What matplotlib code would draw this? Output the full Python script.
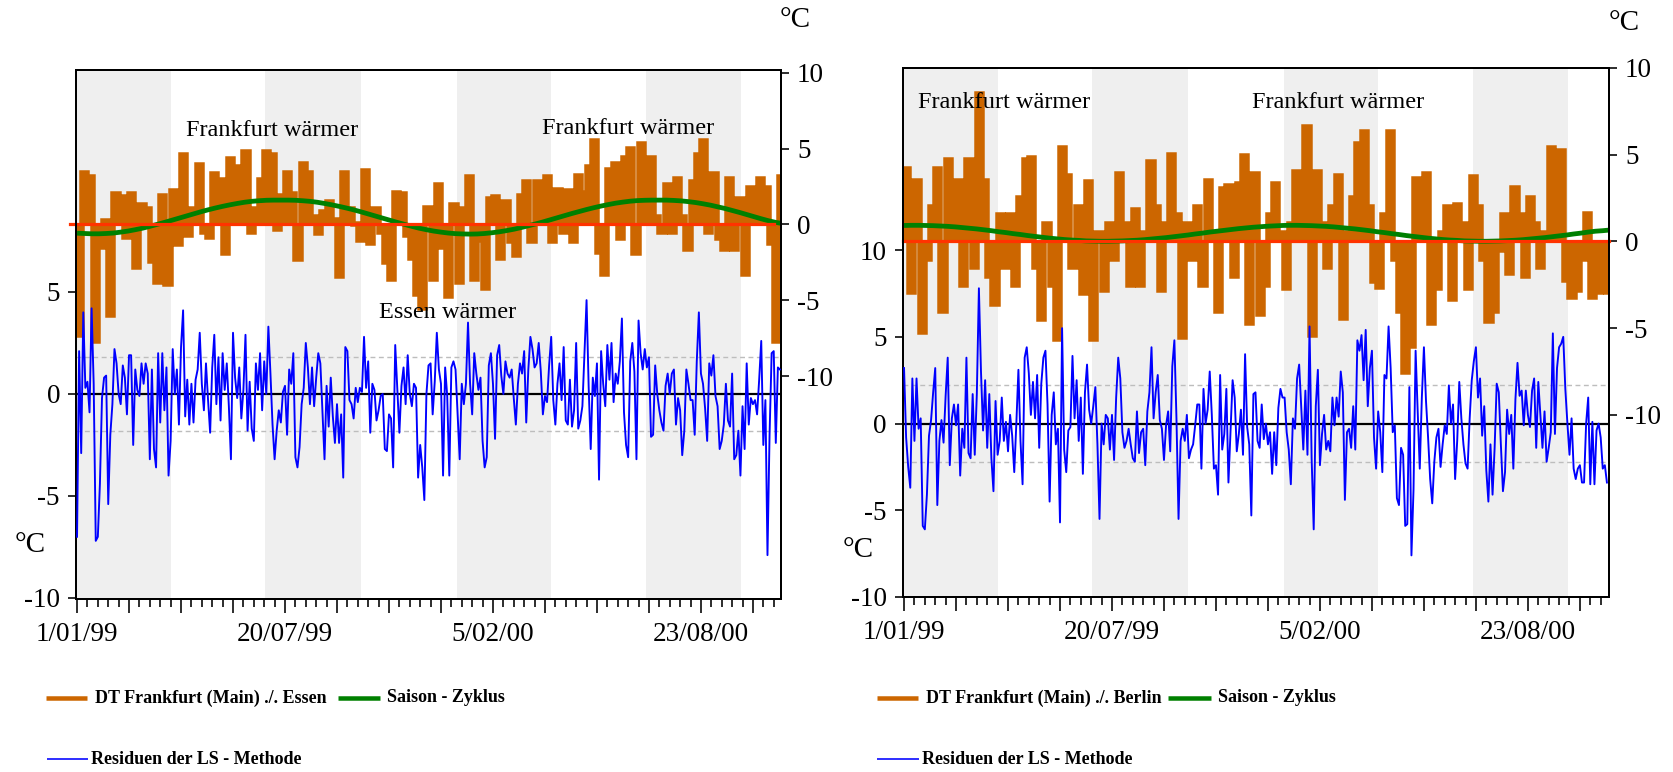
import numpy as np
import matplotlib
matplotlib.use("Agg")
import matplotlib.pyplot as plt
from matplotlib.lines import Line2D
from matplotlib.ticker import FixedLocator, FuncFormatter

# ---------------- data ----------------
tick_days = [0, 200, 400, 600]
tick_labels = ["1/01/99", "20/07/99", "5/02/00", "23/08/00"]
band_starts = [0, 181, 365, 547]
band_ends = [90, 273, 456, 639]

ORANGE_STEP = 5   # days per value of the DT series
GREEN_STEP = 7    # days per value of the seasonal cycle
BLUE_STEP = 2     # days per value of the residuals

# Panel 1: Frankfurt ./. Essen
dt_essen = [-7.3, 3.4, 3.1, -7.7, -1.5, 0.2, -6.0, 2.0, 1.8, -0.8,
            2.0, -2.8, 1.3, 1.0, -2.4, -3.8, 1.9, -3.9, 2.2, -1.3,
            4.6, -0.7, 1.0, 3.9, -0.5, -0.8, 3.3, 2.9, -1.9, 4.3,
            3.8, 0.5, 4.8, -0.5, 1.0, 2.9, 4.8, 4.6, -0.3, 1.9,
            3.4, 2.0, -2.3, 4.0, 3.4, 0.5, -0.6, 0.8, 1.5, 0.3,
            -3.4, 3.4, 1.0, 0.0, -1.0, 3.5, -1.2, 1.0, -0.5, -2.5,
            -3.6, 2.1, 2.0, -0.7, -2.2, -4.6, -5.5, 1.1, -3.6, 2.6,
            -1.5, -4.7, 1.3, -3.8, 1.0, 3.1, -3.6, -1.0, -4.2, 1.7,
            1.8, -2.2, 1.5, -1.1, -2.0, 1.9, 2.8, -1.1, 2.8, 2.3,
            3.1, -1.1, 2.3, -0.5, 2.2, -1.1, 3.2, 2.1, 3.8, 5.5,
            -1.8, -3.3, 3.6, 4.0, -0.9, 4.4, 5.0, -1.9, 5.3, 2.0,
            4.4, 0.5, -0.5, 2.6, -0.5, 3.0, 0.5, -1.6, 2.8, 4.6,
            5.5, -0.5, 3.3, -0.9, -1.6, 3.0, -1.6, 1.7, -3.3, 2.4,
            1.5, 3.0, 2.4, -1.2, -7.7, 3.1]
season_essen = [-0.58, -0.60, -0.62, -0.62, -0.60, -0.57, -0.51, -0.44, -0.35, -0.25,
                -0.13, 0.00, 0.13, 0.27, 0.41, 0.55, 0.69, 0.83, 0.96, 1.08,
                1.19, 1.29, 1.38, 1.46, 1.52, 1.56, 1.59, 1.60, 1.60, 1.60,
                1.59, 1.56, 1.52, 1.46, 1.38, 1.29, 1.19, 1.08, 0.96, 0.83,
                0.69, 0.55, 0.41, 0.27, 0.13, 0.00, -0.13, -0.25, -0.35, -0.44,
                -0.51, -0.57, -0.61, -0.63, -0.64, -0.63, -0.60, -0.55, -0.49, -0.41,
                -0.32, -0.21, -0.09, 0.03, 0.16, 0.30, 0.44, 0.58, 0.72, 0.85,
                0.98, 1.10, 1.21, 1.31, 1.40, 1.47, 1.53, 1.57, 1.59, 1.60,
                1.60, 1.60, 1.58, 1.55, 1.50, 1.44, 1.36, 1.27, 1.16, 1.05,
                0.92, 0.79, 0.65, 0.51, 0.37, 0.24, 0.13, 0.05]
resid_essen = [-7.0, 2.1, -2.9, 4.0, 0.3, 0.6, -0.9, 4.2, 0.5, -7.2,
               -7.0, -4.4, -0.2, 0.8, 0.9, -5.4, -2.0, -0.5, 2.2, 1.5,
               0.0, -0.5, 1.4, 0.8, -1.0, 1.9, 1.9, -2.5, 1.2, 0.2,
               -0.1, 1.5, 0.5, 1.5, 1.0, -3.2, 1.2, -2.7, -3.6, 2.0,
               -1.4, 2.0, -0.8, 1.3, -4.0, -2.3, 2.2, 0.0, 1.2, -1.5,
               2.3, 4.1, -1.1, 0.7, -1.5, 0.5, -1.4, 0.7, 1.2, 3.0,
               0.5, -0.8, 1.5, -0.3, -1.9, 1.3, 2.9, -0.5, 1.8, -1.3,
               2.0, 0.2, 1.5, -0.6, -3.2, 3.0, 0.8, -0.2, 1.3, -1.2,
               0.2, 2.9, -1.8, 0.6, -1.7, -2.3, 1.5, 0.2, 2.0, -0.8,
               1.6, 0.0, 3.3, 1.0, -1.5, -3.2, -1.8, -0.8, -1.4, 0.1,
               0.4, -2.0, 1.2, 0.5, 2.0, -3.1, -3.6, -2.6, -0.5, 0.3,
               2.5, 1.3, -0.5, 1.3, -0.6, 0.8, 2.0, 1.5, -0.8, -3.2,
               0.4, -1.6, 0.8, -1.1, -2.4, -0.5, -2.4, -1.0, -4.1, 2.3,
               2.1, -0.3, -0.5, -1.2, 0.3, -0.4, 0.3, 0.1, 2.8, 0.3,
               1.6, -1.9, 0.5, 0.2, -1.3, -0.8, -0.1, 0.0, -2.7, -2.8,
               -1.0, -1.2, -3.6, 2.4, 0.3, -1.9, 0.4, 1.3, -0.5, 1.9,
               0.0, -0.6, 0.5, 0.3, -4.1, -2.5, -3.6, -5.2, 0.0, 1.4,
               1.5, -1.0, 0.6, 3.0, 1.2, 0.5, -4.0, 1.3, -0.1, -4.0,
               1.3, 1.6, 1.2, -1.0, -3.2, 0.5, -0.5, 0.5, 3.5, 0.5,
               -1.0, 2.0, 1.0, 0.2, 0.8, -2.3, -3.6, -3.1, 1.4, 2.0,
               0.5, -2.2, 1.9, 2.4, 0.9, 0.0, 1.6, 1.0, 0.8, 1.2,
               -0.2, -1.5, 0.5, 1.5, 1.0, 2.1, -1.4, 1.2, 2.8, 2.2,
               1.3, 1.5, 2.5, 1.1, -1.0, -0.1, -0.4, 1.4, 2.8, -0.3,
               -1.5, 0.5, 1.5, -0.3, 2.3, -1.3, -1.5, 0.7, -1.6, -0.8,
               2.5, -1.7, -1.3, -0.6, 2.0, 4.6, 0.4, -2.7, 0.8, -0.1,
               1.5, -4.2, 2.1, 0.5, -0.6, 2.4, 0.7, 2.5, -0.4, 1.0,
               0.5, 1.6, 3.7, -0.9, -2.5, -3.1, 1.6, 2.5, 1.1, -3.2,
               3.6, 2.0, 1.2, 2.2, 1.3, 1.8, -2.1, -2.0, 1.4, 0.0,
               -0.8, -1.4, -1.8, 0.4, 1.0, 0.0, 1.0, 1.2, -1.5, -0.2,
               -0.8, -3.0, -1.8, 1.2, 0.5, -0.3, -0.3, -2.0, 1.6, 4.0,
               1.0, 0.5, -0.7, -2.3, 1.5, 0.9, 1.9, -0.1, -0.6, -2.7,
               -2.3, -1.5, 0.5, -1.3, -1.6, 1.0, -3.2, -3.0, -1.8, -4.0,
               -0.6, -2.7, 1.5, -1.5, -0.2, -0.5, -0.3, -1.0, 0.7, 2.6,
               -2.5, -0.3, -7.9, -2.0, 2.0, 2.1, -2.4, 1.3, 1.2]
band_essen = [-1.8, 1.8]

# Panel 2: Frankfurt ./. Berlin
dt_berlin = [4.2, -2.9, 3.5, -5.2, -1.0, 2.0, 4.2, -4.0, 4.7, 0.5,
             3.5, -2.5, 4.7, -1.5, 8.5, 3.5, -2.0, -3.6, 1.5, -1.5,
             1.5, -2.5, 2.5, 4.7, 4.8, -1.5, -4.5, 1.0, -2.5, -5.6,
             5.4, 3.8, -1.5, 2.0, -3.0, 3.4, -5.6, 0.5, -2.8, 1.0,
             -1.0, 3.9, 1.0, -2.5, 1.8, -2.5, 0.5, 4.6, 2.0, -2.8,
             1.0, 5.0, 1.5, -5.5, 1.0, -1.0, 2.0, -2.5, 3.5, 0.5,
             -4.0, 3.0, 3.2, -2.0, 3.3, 4.9, -4.7, 3.9, -4.2, -2.5,
             1.5, 3.3, 0.5, -2.7, 1.0, 4.0, 2.5, 6.6, -5.4, 4.0,
             1.0, -1.5, 2.0, 3.8, -4.4, 0.5, 2.5, 5.6, 6.3, 2.0,
             -2.3, -2.6, 1.5, 6.3, -1.0, -4.0, -7.5, -6.0, 3.6, 1.0,
             3.9, -4.7, -2.7, 0.5, 2.0, -3.3, 2.1, 1.0, -2.7, 3.7,
             2.0, -1.0, -4.6, -4.0, -0.5, 1.5, -1.8, 3.1, 1.5, -2.0,
             2.5, 1.0, -1.5, 0.5, 5.4, 3.0, 5.2, -2.2, -3.2, -2.8,
             -1.0, 1.6, -3.2, -2.9, -1.5, -2.9]
season_berlin = [0.92, 0.93, 0.93, 0.92, 0.91, 0.89, 0.87, 0.84, 0.80, 0.76,
                 0.72, 0.67, 0.62, 0.56, 0.51, 0.45, 0.40, 0.34, 0.29, 0.24,
                 0.19, 0.15, 0.11, 0.08, 0.06, 0.03, 0.02, 0.01, 0.01, 0.02,
                 0.03, 0.05, 0.07, 0.10, 0.14, 0.18, 0.22, 0.27, 0.32, 0.37,
                 0.43, 0.48, 0.54, 0.59, 0.64, 0.69, 0.74, 0.78, 0.82, 0.85,
                 0.88, 0.90, 0.92, 0.93, 0.93, 0.92, 0.91, 0.89, 0.87, 0.84,
                 0.80, 0.76, 0.72, 0.67, 0.62, 0.56, 0.51, 0.45, 0.40, 0.34,
                 0.29, 0.24, 0.19, 0.15, 0.11, 0.08, 0.06, 0.03, 0.02, 0.01,
                 0.01, 0.02, 0.03, 0.05, 0.07, 0.10, 0.14, 0.18, 0.22, 0.27,
                 0.32, 0.37, 0.43, 0.48, 0.54, 0.59, 0.62, 0.66]
resid_berlin = [3.2, -0.8, -2.5, -3.7, 2.6, -1.0, 2.6, -0.3, 0.3, -5.9,
                -6.1, -4.1, -0.7, 0.2, 1.8, 3.2, -4.7, -1.0, 0.2, -1.1,
                1.6, 3.8, -2.4, 0.3, 1.1, -0.1, 1.1, -3.0, -0.3, -1.4,
                3.8, -1.7, -2.0, 1.7, -1.8, 1.7, 7.8, 3.0, -0.4, 2.5,
                -1.4, 1.7, -2.0, -3.9, 1.3, -1.8, -1.0, 1.5, -1.0, 0.1,
                -1.6, 0.5, -0.7, -2.8, 0.0, 3.1, -1.0, -3.5, 3.8, 4.4,
                2.9, 0.5, 2.4, 0.3, 2.8, -1.4, 2.3, 3.8, 4.2, 1.1,
                -4.5, 0.5, 1.8, -1.2, -0.3, -5.7, 5.5, -1.5, -2.8, -0.4,
                -0.2, 3.9, 0.3, 2.5, -1.0, 1.5, -2.9, 1.8, 3.4, 0.8,
                0.0, 1.0, 2.1, -1.2, -5.5, 0.0, -1.2, 0.5, 0.3, -1.5,
                0.5, -2.1, 1.5, 3.8, 2.6, -0.5, -1.4, -1.0, -0.3, -1.2,
                -2.0, -2.2, 0.7, -1.7, -0.5, -0.3, -2.4, 0.7, 1.8, 4.4,
                0.3, 1.8, 2.8, 0.2, -0.3, -2.1, -0.1, 0.7, -1.6, 3.3,
                4.8, 0.3, -5.5, -1.0, -0.3, -1.0, 0.5, -2.0, -1.5, -1.2,
                -0.1, 1.1, 1.1, -2.6, 2.0, 0.0, 0.8, 3.0, 0.5, -2.6,
                -2.4, -4.1, 2.8, -1.5, -0.6, 2.0, -3.4, -0.5, 2.5, 1.5,
                -1.6, -0.6, 0.8, -1.8, 4.0, -0.2, -1.2, -5.3, 1.7, 1.8,
                -1.0, -1.4, 1.1, -0.9, 0.0, -1.2, -0.5, -2.9, -0.5, -2.4,
                0.9, 2.0, 1.5, 1.5, -0.5, -1.5, -3.5, 0.3, -0.3, 2.6,
                3.4, 1.0, -1.5, 1.9, -1.8, 5.6, -2.0, -6.1, 1.0, 3.1,
                -2.4, -0.6, 0.5, -1.5, -1.0, -1.6, 1.5, -0.1, 1.5, 0.4,
                3.0, 1.8, -4.4, -0.5, -0.3, -1.4, 1.0, -1.5, 4.8, 4.2,
                5.1, 2.5, 5.4, 1.0, 3.2, 4.2, -0.8, -2.6, 0.7, -0.5,
                -2.8, 2.8, 2.6, 5.6, 3.2, -0.5, -0.1, -4.3, -4.7, -1.4,
                -1.8, -5.9, -5.8, 2.1, -7.6, -3.8, 4.2, 0.7, -2.6, 1.5,
                4.4, 1.3, -0.8, -3.2, -4.6, -2.2, -0.8, -0.3, -2.5, -1.2,
                -0.1, -0.6, 2.2, 0.0, 1.1, -3.2, -1.0, 2.4, 0.3, -1.2,
                -2.3, -2.6, 0.3, 2.5, 3.6, 4.4, 1.5, 2.6, -0.7, 1.0,
                -2.7, -4.5, -1.2, -4.1, -1.4, 2.3, 1.8, -1.2, -3.9, -2.8,
                0.8, -0.6, 0.5, -2.6, 1.4, 3.5, 1.6, 1.9, -0.1, 1.9,
                0.5, -0.2, 1.9, 2.6, -1.4, 2.4, 0.5, -1.4, 0.7, -2.2,
                -1.4, -0.5, 5.2, -0.6, 3.2, 4.4, 4.6, 5.0, 2.0, 0.0,
                -1.8, 0.3, -2.6, -3.2, -2.6, -2.4, -3.4, -3.4, 0.0, 1.5,
                -3.5, 0.1, -3.5, -0.4, 0.0, -0.8, -2.6, -2.4, -3.4]
band_berlin = [-2.2, 2.2]

legend_dt = ["DT Frankfurt (Main) ./. Essen", "DT Frankfurt (Main) ./. Berlin"]
legend_season = "Saison - Zyklus"
legend_resid = "Residuen der LS - Methode"

# ---------------- style ----------------
W, H = 1673, 772
ORANGE = "#CC6600"
GREEN = "#008000"
BLUE = "#0000FF"
RED = "#FF3300"
BANDC = "#EFEFEF"
DASHC = "#BDBDBD"
SERIF = ["Liberation Serif", "DejaVu Serif"]
plt.rcParams["font.family"] = SERIF
plt.rcParams["axes.unicode_minus"] = False
PT = 72 / 100.0  # points per pixel


def fx(x):
    return x / W


def fy(y):
    return 1 - y / H


fig = plt.figure(figsize=(W / 100, H / 100), dpi=100)
fig.patch.set_facecolor("white")


def make_panel(box, dt, season, resid, band, dt_ylim, res_ylim, res_ticks, xmax,
               red_span):
    l, t, r, b = box
    base = fig.add_axes([fx(l), fy(b), fx(r) - fx(l), fy(t) - fy(b)])
    twin = base.twinx()
    base.yaxis.tick_right()
    twin.yaxis.tick_left()
    base.set_zorder(1)
    twin.set_zorder(2)
    twin.patch.set_visible(False)

    # quarter bands
    for s, e in zip(band_starts, band_ends):
        base.axvspan(s, e, color=BANDC, lw=0, zorder=0)

    # DT series: filled steps from zero plus thick step outline
    edges = np.arange(len(dt) + 1) * ORANGE_STEP
    base.bar(edges[:-1], dt, width=ORANGE_STEP, align="edge", color=ORANGE,
             lw=0, zorder=2)
    base.stairs(dt, edges, baseline=None, color=ORANGE, lw=5.5 * PT, zorder=2,
                joinstyle="miter", capstyle="butt")
    gdays = np.arange(len(season)) * GREEN_STEP
    base.plot(gdays, season, color=GREEN, lw=4.8 * PT, zorder=3,
              solid_capstyle="butt")
    base.axhline(0, xmin=red_span[0], xmax=red_span[1], color=RED,
                 lw=3.2 * PT, zorder=4, clip_on=False)

    # residuals
    rdays = np.arange(len(resid)) * BLUE_STEP
    for lvl in band:
        twin.axhline(lvl, color=DASHC, lw=1.4 * PT, ls=(0, (3.5, 2.5)), zorder=1)
    twin.axhline(0, color="black", lw=2.2 * PT, zorder=2)
    twin.plot(rdays, resid, color=BLUE, lw=1.9 * PT, zorder=3)

    base.set_xlim(-1, xmax)
    base.set_ylim(*dt_ylim)
    twin.set_ylim(*res_ylim)

    base.yaxis.set_major_locator(FixedLocator([-10, -5, 0, 5, 10]))
    twin.yaxis.set_major_locator(FixedLocator(res_ticks))
    base.xaxis.set_major_locator(FixedLocator(np.arange(0, xmax, 50)))
    base.xaxis.set_minor_locator(FixedLocator(np.arange(0, xmax, 10)))
    lab = dict(zip(tick_days, tick_labels))
    base.xaxis.set_major_formatter(FuncFormatter(lambda v, p: lab.get(int(round(v)), "")))

    for a in (base, twin):
        for sp in a.spines.values():
            sp.set_linewidth(2.0 * PT)
    base.tick_params(axis="x", which="major", length=14 * PT, width=1.6 * PT,
                     labelsize=19.5, pad=9 * PT, direction="out", top=False)
    base.tick_params(axis="x", which="minor", length=8 * PT, width=1.6 * PT,
                     direction="out", top=False)
    base.tick_params(axis="y", length=8 * PT, width=1.6 * PT, labelsize=19.5,
                     pad=8 * PT, direction="out")
    twin.tick_params(axis="y", length=8 * PT, width=1.6 * PT, labelsize=19.5,
                     pad=8 * PT, direction="out")
    return base, twin


make_panel((76, 70, 781, 599), dt_essen, season_essen, resid_essen, band_essen,
           (-24.7, 10.18), (-10.05, 15.88), [-10, -5, 0, 5], 677, (-0.008, 0.99))
make_panel((903, 68, 1609, 597), dt_berlin, season_berlin, resid_berlin, band_berlin,
           (-20.5, 10.0), (-10.0, 20.5), [-10, -5, 0, 5, 10], 678, (0.0, 1.0))

# annotations
ann = dict(fontsize=17.5, ha="center", va="center")
fig.text(fx(272), fy(130), "Frankfurt wärmer", **ann)
fig.text(fx(628), fy(128), "Frankfurt wärmer", **ann)
fig.text(fx(448), fy(313), "Essen wärmer", **ann)
fig.text(fx(1004), fy(103), "Frankfurt wärmer", **ann)
fig.text(fx(1338), fy(103), "Frankfurt wärmer", **ann)

# degree labels
deg = dict(fontsize=21, ha="center", va="center")
fig.text(fx(30), fy(545), "°C", **deg)
fig.text(fx(795), fy(20), "°C", **deg)
fig.text(fx(858), fy(550), "°C", **deg)
fig.text(fx(1624), fy(23), "°C", **deg)


# legends
def leg_item(x0, x1, y, color, lw, tx, text):
    fig.add_artist(Line2D([fx(x0), fx(x1)], [fy(y), fy(y)], color=color, lw=lw * PT,
                          transform=fig.transFigure, solid_capstyle="butt"))
    fig.text(fx(tx), fy(y), text, fontsize=13, fontweight="bold",
             ha="left", va="center")


leg_item(46, 87, 698, ORANGE, 4.5, 95, legend_dt[0])
leg_item(338, 380, 698, GREEN, 4.5, 387, legend_season)
leg_item(47, 88, 759, BLUE, 1.6, 91, legend_resid)
leg_item(877, 918, 698, ORANGE, 4.5, 926, legend_dt[1])
leg_item(1168, 1211, 698, GREEN, 4.5, 1218, legend_season)
leg_item(877, 919, 759, BLUE, 1.6, 922, legend_resid)

fig.savefig("out.png", dpi=100, facecolor="white")
